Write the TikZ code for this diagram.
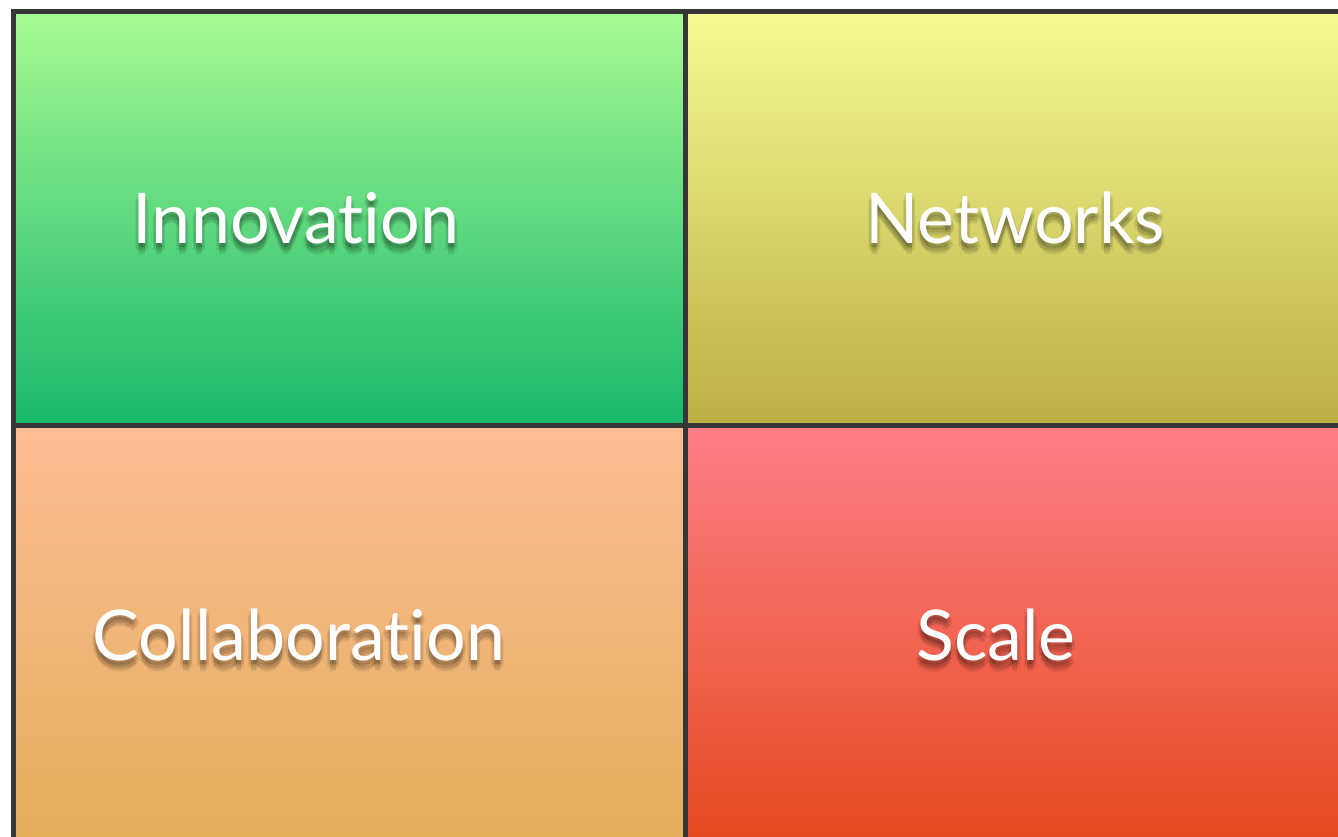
\documentclass[tikz,border=0pt]{standalone}
\usepackage{fontspec}
\setmainfont{Lato}[Ligatures=NoCommon]
\definecolor{gridline}{HTML}{363636}
\definecolor{innotop}{HTML}{A7FA92}
\definecolor{innobot}{HTML}{18B86C}
\definecolor{netwtop}{HTML}{F5FB95}
\definecolor{netwbot}{HTML}{BBAF43}
\definecolor{colltop}{HTML}{FEBC94}
\definecolor{collbot}{HTML}{E3AF5C}
\definecolor{scaltop}{HTML}{FF7F86}
\definecolor{scalbot}{HTML}{E54A21}
\begin{document}
\begin{tikzpicture}[x=1bp,y=-1bp,
		cell/.style={draw=gridline,line width=5bp,anchor=north west,inner sep=0pt,
			minimum width=672bp,minimum height=414bp},
		word/.style={text=white,font=\fontsize{70bp}{70bp}\selectfont,inner sep=0pt},
		wordshade/.style={text=black,opacity=0.08,font=\fontsize{70bp}{70bp}\selectfont,inner sep=0pt}]
	\useasboundingbox (0,0) rectangle (1338,836);
	\clip (0,0) rectangle (1338,836);
	% the four cells
	\node[cell,top color=innotop,bottom color=innobot] (inno) at (11,9) {};
	\node[cell,top color=netwtop,bottom color=netwbot] (netw) at (683,9) {};
	\node[cell,top color=colltop,bottom color=collbot] (coll) at (11,423) {};
	\node[cell,top color=scaltop,bottom color=scalbot] (scal) at (683,423) {};
	% shadows under the words
	\foreach \dx/\dy in {0/5,-3/7,3/7,0/9,-2/4,2/4,0/11} {
		\node[wordshade] at (296+\dx,218+\dy) {Innovation};
		\node[wordshade] at (1015+\dx,218+\dy) {Networks};
		\node[wordshade] at (299+\dx,635+\dy) {Collaboration};
		\node[wordshade] at (996+\dx,635+\dy) {Scale};
	}
	% the words
	\node[word] (innolabel) at (296,218) {Innovation};
	\node[word] (netwlabel) at (1015,218) {Networks};
	\node[word] (colllabel) at (299,635) {Collaboration};
	\node[word] (scallabel) at (996,635) {Scale};
\end{tikzpicture}
\end{document}
